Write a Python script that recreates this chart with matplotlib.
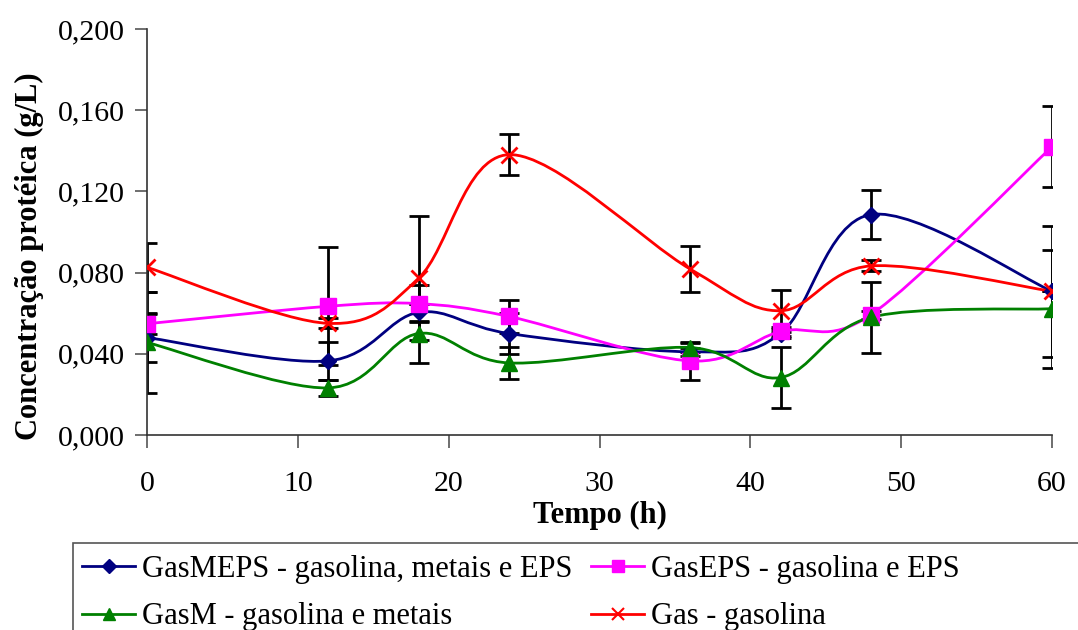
import numpy as np
import matplotlib
matplotlib.use("Agg")
import matplotlib.pyplot as plt
from matplotlib.path import Path
from matplotlib.patches import PathPatch, Rectangle
from matplotlib.lines import Line2D
from matplotlib.ticker import FuncFormatter, MultipleLocator

plt.rcParams['font.family'] = ['Liberation Serif', 'DejaVu Serif']

# ---- data ----
tempo = [0, 12, 18, 24, 36, 42, 48, 60]

gasmeps = [0.048, 0.0365, 0.0604, 0.050, 0.041, 0.050, 0.1086, 0.0708]
gasmeps_err = [0.012, 0.0095, 0.004, 0.010, 0.002, 0.002, 0.012, 0.0324]

gaseps = [0.0548, 0.0634, 0.0647, 0.0584, 0.0365, 0.051, 0.0593, 0.142]
gaseps_err = [0.005, 0.029, 0.009, 0.008, 0.0092, 0.002, 0.002, 0.020]

gasm = [0.0456, 0.0232, 0.050, 0.0355, 0.0431, 0.0283, 0.058, 0.0622]
gasm_err = [0.025, 0.004, 0.0145, 0.0078, 0.002, 0.015, 0.0175, 0.029]

gas = [0.0826, 0.055, 0.0772, 0.1381, 0.0818, 0.0612, 0.0833, 0.0708]
gas_err = [0.012, 0.0025, 0.0305, 0.010, 0.0115, 0.0104, 0.0027, 0.0]

labels = ["GasMEPS - gasolina, metais e EPS", "GasEPS - gasolina e EPS",
          "GasM - gasolina e metais", "Gas - gasolina"]
x_ticks = [0, 10, 20, 30, 40, 50, 60]
xlabel = "Tempo (h)"
ylabel = "Concentração protéica (g/L)"


def smooth_path(x, y):
    pts = np.column_stack([x, y]).astype(float)
    n = len(pts)
    verts = [pts[0]]
    codes = [Path.MOVETO]
    for i in range(n - 1):
        p0 = pts[i - 1] if i > 0 else pts[i]
        p1 = pts[i]
        p2 = pts[i + 1]
        p3 = pts[i + 2] if i + 2 < n else pts[i + 1]
        c1 = p1 + (p2 - p0) / 6.0
        c2 = p2 - (p3 - p1) / 6.0
        verts += [c1, c2, p2]
        codes += [Path.CURVE4] * 3
    return Path(verts, codes)


fig = plt.figure(figsize=(10.78, 6.30), dpi=100)
ax = fig.add_axes([147 / 1078, 1 - 435 / 630, (1052 - 147) / 1078, (435 - 29) / 630])

series = [
    (gasmeps, gasmeps_err, '#000080', 'D', 8),
    (gaseps, gaseps_err, '#FF00FF', 's', 11),
    (gasm, gasm_err, '#008000', '^', 11),
    (gas, gas_err, '#FF0000', 'x', 11),
]

handles = []
for (vals, err, col, mk, ms), lab in zip(series, labels):
    ax.errorbar(tempo, vals, yerr=err, fmt='none', ecolor='black',
                elinewidth=2.0, capsize=7, capthick=2.0, zorder=2)
for (vals, err, col, mk, ms), lab in zip(series, labels):
    patch = PathPatch(smooth_path(tempo, vals), facecolor='none', edgecolor=col,
                      lw=2.0, transform=ax.transData, zorder=3)
    ax.add_patch(patch)
    mew = 2.0 if mk == 'x' else 1.0
    ax.plot(tempo, vals, linestyle='none', marker=mk, markersize=ms,
            color=col, markeredgecolor=col, markeredgewidth=mew, zorder=4)
    handles.append(Line2D([], [], color=col, lw=2.0, marker=mk,
                          markersize=8 if mk != 'D' else 7,
                          markeredgewidth=1.5 if mk == 'x' else 1.0, label=lab))

ax.set_xlim(0, 60)
ax.set_ylim(0, 0.2)
ax.set_xticks(x_ticks)
ax.yaxis.set_major_locator(MultipleLocator(0.04))
ax.yaxis.set_major_formatter(FuncFormatter(lambda v, p: f"{v:.3f}".replace('.', ',')))
for s in ['top', 'right']:
    ax.spines[s].set_visible(False)
for s in ['left', 'bottom']:
    ax.spines[s].set_color('#333333')
    ax.spines[s].set_linewidth(1.2)
ax.tick_params(axis='both', direction='out', length=9, width=1.2, color='#555555',
               labelsize=21.5)
ax.tick_params(axis='x', pad=17)
ax.tick_params(axis='y', pad=7)
ax.set_xlabel(xlabel, fontsize=22, fontweight='bold', labelpad=3)
ax.set_ylabel(ylabel, fontsize=22, fontweight='bold')
ax.yaxis.set_label_coords((44 - 147) / 905, 0.44)

# legend frame
fig.patches.append(Rectangle((73 / 1078, -0.05), 1.0, 1 - 543 / 630 + 0.05,
                             transform=fig.transFigure, facecolor='white',
                             edgecolor='#555555', lw=1.2, zorder=1))

leg_kw = dict(loc='upper left', frameon=False, fontsize=22, borderpad=0,
              borderaxespad=0, handlelength=1.75, handletextpad=0.2, labelspacing=0.6)
leg1 = fig.legend(handles=[handles[0], handles[2]],
                  bbox_to_anchor=(82 / 1078, 1 - 555 / 630), **leg_kw)
leg2 = fig.legend(handles=[handles[1], handles[3]],
                  bbox_to_anchor=(591 / 1078, 1 - 555 / 630), **leg_kw)

fig.savefig("out.png", dpi=100)
